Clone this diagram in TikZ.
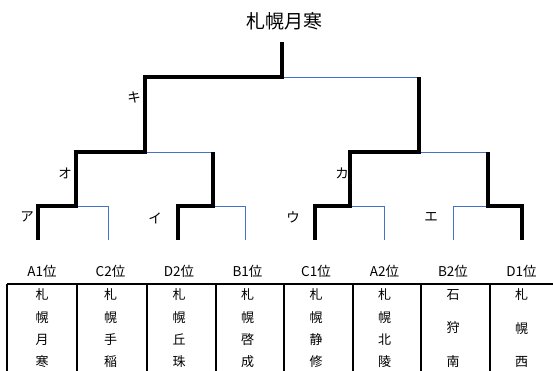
\documentclass[tikz,border=0pt]{standalone}
\usepackage{fontspec}
\setmainfont{Noto Sans CJK JP}
\usetikzlibrary{positioning}
\definecolor{lineblue}{RGB}{68,114,196}
\tikzset{
  win/.style={line width=3.6pt, line join=miter},
  lose/.style={lineblue, line width=1pt},
  grid line/.style={line width=1.6pt},
  round label/.style={font=\fontsize{13.5}{13.5}\selectfont, inner sep=0pt},
  team label/.style={font=\fontsize{13.5}{13.5}\selectfont, inner sep=0pt},
}

\begin{document}
\begin{tikzpicture}[x=1pt, y=-1pt]
            \useasboundingbox (0,0) rectangle (553,370);
            \node (champ) [font=\fontsize{19}{19}\selectfont] at (284,21) {札幌月寒};

            % leaves
            \foreach \x [count=\xi] in {38,108,178,245,315,384,453,522}
                \coordinate (l\xi) at (\x,240);
            % matches
            \coordinate (ma) at (76,206);
            \coordinate (mi) at (213,206);
            \coordinate (mu) at (350,206);
            \coordinate (me) at (488,206);
            \coordinate (mo) at (145,152);
            \coordinate (mk) at (419,152);
            \coordinate (mf) at (282,77);
            \coordinate (top) at (282,42);

            % losing sides
            \draw[lose] (l2) |- (ma);
            \draw[lose] (l4) |- (mi);
            \draw[lose] (l6) |- (mu);
            \draw[lose] (l7) |- (me);
            \draw[lose] (mi |- mo) -- (mo);
            \draw[lose] (me |- mk) -- (mk);
            \draw[lose] (mk |- mf) -- (mf);

            % winning sides
            \draw[win] (l1) |- (ma) |- (mo) |- (mf) -- (top);
            \draw[win] (l3) |- (mi) -- (mi |- mo);
            \draw[win] (l5) |- (mu) |- (mk) -- (mk |- mf);
            \draw[win] (l8) |- (me) -- (me |- mk);

            \node (a) [round label] at (27,217) {ア};
            \node (i) [round label] at (155,218) {イ};
            \node (u) [round label] at (293,217) {ウ};
            \node (e) [round label] at (431,217) {エ};
            \node (o) [round label] at (65,173) {オ};
            \node (k) [round label] at (342,173) {カ};
            \node (ki) [round label] at (134,97) {キ};

            % table
            \draw[grid line] (7,284) -- (553,284);
            \foreach \x in {7,77,147,216,284,353,421,490}
                \draw[grid line] (\x,284) -- (\x,372);
            \foreach \lab/\txt/\sk [count=\xi, evaluate=\xi as \cx using {42+68.5*(\xi-1)}] in
                {A1位/{札\\幌\\月\\寒}/22.3, C2位/{札\\幌\\手\\稲}/22.3, D2位/{札\\幌\\丘\\珠}/22.3,
                 B1位/{札\\幌\\啓\\成}/22.3, C1位/{札\\幌\\静\\修}/22.3, A2位/{札\\幌\\北\\陵}/22.3,
                 B2位/{石\\狩\\南}/33.5, D1位/{札\\幌\\西}/33.5} {
                \node (h\xi) [team label] at (\cx,271) {\lab};
                \node (t\xi) [team label, align=center, font=\fontsize{13}{\sk}\selectfont] at (\cx,328.5) {\txt};
            }
        \end{tikzpicture}
\end{document}
